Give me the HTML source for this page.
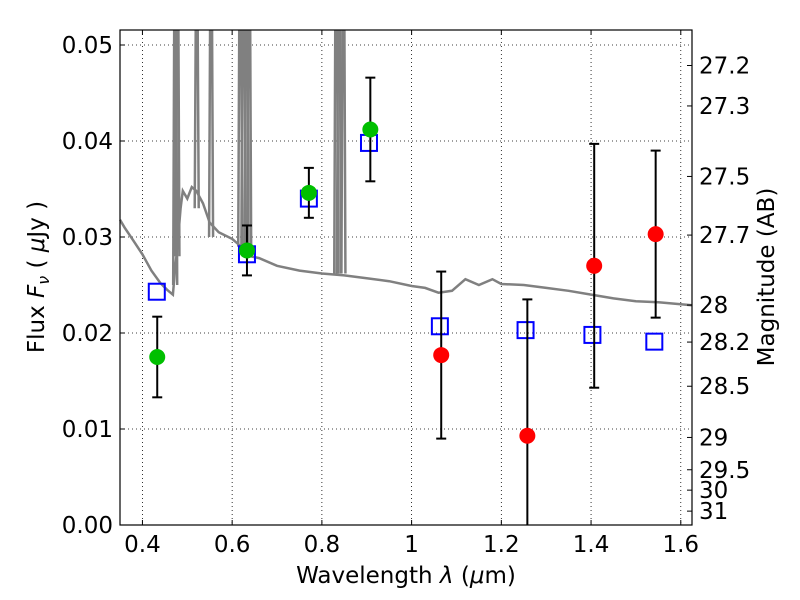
<!DOCTYPE html>
<html><head><meta charset="utf-8"><style>
body{margin:0;background:#fff}
svg{display:block;font-family:"DejaVu Sans","Liberation Sans",sans-serif}
</style></head><body>
<svg id="c" width="800" height="600" xmlns="http://www.w3.org/2000/svg">
<rect width="800" height="600" fill="#fff"/>
<g id="grid"></g>
<g id="spec"></g>
<g id="marks"></g>
<rect x="120" y="30" width="572" height="495" fill="none" stroke="#000" stroke-width="1.2"/>
<g id="axes" font-size="23" fill="#000"></g>
<text x="406" y="583" text-anchor="middle" font-size="23">Wavelength  <tspan font-style="italic">λ</tspan> (<tspan font-style="italic">μ</tspan>m)</text>
<text transform="translate(44,277) rotate(-90)" text-anchor="middle" font-size="23">Flux  <tspan font-style="italic">F</tspan><tspan font-style="italic" font-size="16" dy="5">ν</tspan><tspan dy="-5">  (  </tspan><tspan font-style="italic">μ</tspan>Jy )</text>
<text transform="translate(774,277) rotate(-90)" text-anchor="middle" font-size="23">Magnitude (AB)</text>
</svg>
<script>
const xTicks=[0.4,0.6,0.8,1.0,1.2,1.4,1.6];
const xTickLabels=["0.4","0.6","0.8","1","1.2","1.4","1.6"];
const yTicks=[0,0.01,0.02,0.03,0.04,0.05];
const yTickLabels=["0.00","0.01","0.02","0.03","0.04","0.05"];
const magTicks=[27.2,27.3,27.5,27.7,28,28.2,28.5,29,29.5,30,31];
const magLabels=["27.2","27.3","27.5","27.7","28","28.2","28.5","29","29.5","30","31"];
const modelWave=[0.432,0.633,0.771,0.905,1.063,1.254,1.403,1.541];
const modelFlux=[0.0243,0.0282,0.0340,0.0398,0.0207,0.0203,0.0198,0.0191];
const greenWave=[0.433,0.633,0.771,0.908];
const greenFlux=[0.0175,0.0286,0.0346,0.0412];
const greenErr=[0.0042,0.0026,0.0026,0.0054];
const redWave=[1.066,1.258,1.407,1.544];
const redFlux=[0.0177,0.0093,0.0270,0.0303];
const redErr=[0.0087,0.0142,0.0127,0.0087];
const specWave=[0.35,0.36,0.38,0.40,0.42,0.44,0.455,0.468,0.472,0.478,0.485,0.49,0.50,0.51,0.52,0.535,0.55,0.57,0.60,0.62,0.64,0.66,0.70,0.75,0.80,0.85,0.90,0.95,1.00,1.03,1.06,1.09,1.12,1.15,1.18,1.20,1.25,1.30,1.35,1.40,1.45,1.50,1.55,1.60,1.625];
const specFlux=[0.0318,0.0310,0.0296,0.0282,0.0265,0.0252,0.0245,0.0240,0.0262,0.0290,0.0330,0.0348,0.0340,0.0352,0.0348,0.0335,0.0315,0.0305,0.0298,0.0290,0.0280,0.0278,0.0270,0.0265,0.0262,0.0260,0.0257,0.0254,0.0249,0.0247,0.0242,0.0244,0.0256,0.0250,0.0256,0.0251,0.0250,0.0247,0.0244,0.0240,0.0236,0.0233,0.0232,0.0230,0.0229];
const spikeWave=[0.473,0.478,0.521,0.553,0.618,0.625,0.632,0.638,0.832,0.838,0.848];
const spikeBase=[0.0250,0.0280,0.0330,0.0300,0.0290,0.0285,0.0283,0.0280,0.0262,0.0262,0.0262];

const X0=0.35,X1=1.625,PX0=120,PX1=692,PY0=525,PY1=30,YMAX=(525-30)/9600;
const sx=v=>PX0+(v-X0)/(X1-X0)*(PX1-PX0);
const sy=v=>PY0-v/YMAX*(PY0-PY1);
const magToFlux=m=>Math.pow(10,(23.9-m)/2.5);
const NS="http://www.w3.org/2000/svg";
function mk(t,a,p){const e=document.createElementNS(NS,t);for(const k in a)e.setAttribute(k,a[k]);p.appendChild(e);return e;}
const grid=document.getElementById('grid'),axes=document.getElementById('axes'),spec=document.getElementById('spec'),marks=document.getElementById('marks');

xTicks.forEach((t,i)=>{const x=sx(t);
 const g=mk('line',{x1:x,x2:x,y1:PY1,y2:PY0,stroke:'#000','stroke-width':0.8,'stroke-dasharray':'1,3'},grid);
 
 
 mk('line',{x1:x,x2:x,y1:PY0,y2:PY0-5,stroke:'#000'},axes);
 mk('line',{x1:x,x2:x,y1:PY1,y2:PY1+5,stroke:'#000'},axes);
 const l=mk('text',{x:x,y:PY0+27,'text-anchor':'middle'},axes);l.textContent=xTickLabels[i];
 
 
});
yTicks.forEach((t,i)=>{const y=sy(t);
 const g=mk('line',{x1:PX0,x2:PX1,y1:y,y2:y,stroke:'#000','stroke-width':0.8,'stroke-dasharray':'1,3'},grid);
 
 
 mk('line',{x1:PX0,x2:PX0+5,y1:y,y2:y,stroke:'#000'},axes);
 const l=mk('text',{x:PX0-7,y:y+8,'text-anchor':'end'},axes);l.textContent=yTickLabels[i];
 
 
});
magTicks.forEach((m,i)=>{const y=sy(magToFlux(m));
 mk('line',{x1:PX1,x2:PX1-5,y1:y,y2:y,stroke:'#000'},axes);
 const l=mk('text',{x:PX1+7,y:y+8,'text-anchor':'start'},axes);l.textContent=magLabels[i];
 
 
});

let d='';specWave.forEach((w,i)=>{d+=(i?'L':'M')+sx(w).toFixed(1)+','+sy(specFlux[i]).toFixed(1);});
const sp=mk('path',{d:d,fill:'none',stroke:'#808080','stroke-width':2.5},spec);


spikeWave.forEach((w,i)=>{const x=sx(w);
 const s=mk('path',{d:`M${x-2},${sy(spikeBase[i])}L${x-1},${PY1}M${x+1},${PY1}L${x+2},${sy(spikeBase[i])}`,fill:'none',stroke:'#808080','stroke-width':2.5},spec);
 
 
});

function errbar(w,f,e,name){const x=sx(w),top=sy(f+e),bot=Math.min(PY0,sy(f-e));
 const g=mk('g',{stroke:'#000','stroke-width':2},marks);
 
 
 mk('line',{x1:x,x2:x,y1:top,y2:bot},g);
 mk('line',{x1:x-5,x2:x+5,y1:top,y2:top},g);
 if(f-e>0)mk('line',{x1:x-5,x2:x+5,y1:bot,y2:bot},g);
}
modelWave.forEach((w,i)=>{const r=mk('rect',{x:sx(w)-8,y:sy(modelFlux[i])-8,width:16,height:16,fill:'none',stroke:'#0000ff','stroke-width':2},marks);
 
 
});
greenWave.forEach((w,i)=>{errbar(w,greenFlux[i],greenErr[i],'green-errorbar');
 const c=mk('circle',{cx:sx(w),cy:sy(greenFlux[i]),r:8,fill:'#00bf00'},marks);
 
 
});
redWave.forEach((w,i)=>{errbar(w,redFlux[i],redErr[i],'red-errorbar');
 const c=mk('circle',{cx:sx(w),cy:sy(redFlux[i]),r:8,fill:'#ff0000'},marks);
 
 
});
</script>
</body></html>
